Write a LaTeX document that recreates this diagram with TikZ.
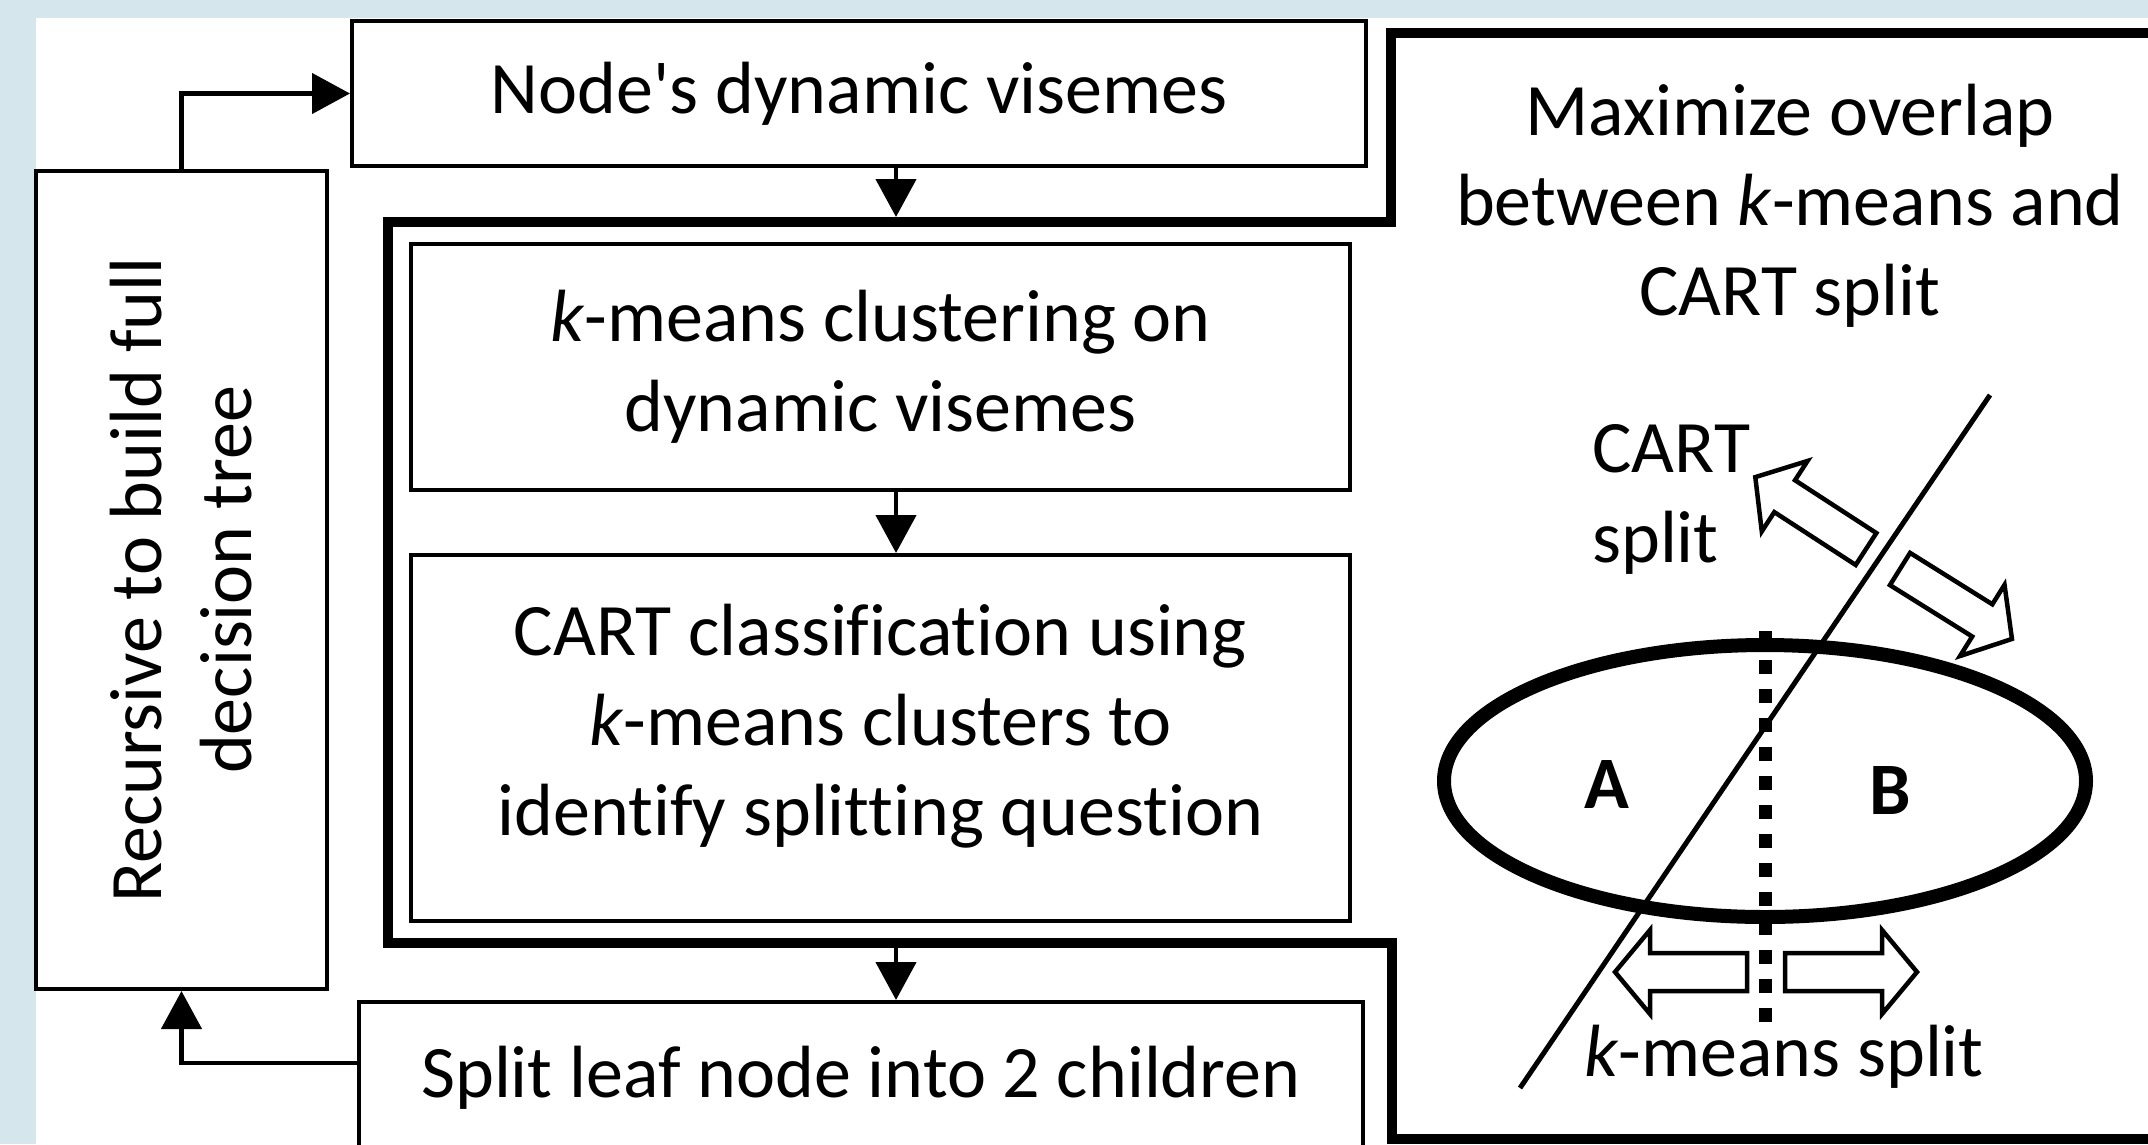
\documentclass[tikz,border=0pt]{standalone}
\usepackage{fontspec}
\setmainfont{Carlito}[Ligatures={TeXOff,CommonOff}]
\usetikzlibrary{arrows.meta}
\definecolor{bgblue}{RGB}{214,230,237}
\begin{document}
\begin{tikzpicture}[x=1pt,y=-1pt,
  every node/.style={font=\fontsize{74pt}{90pt}\selectfont},
  box/.style={draw=black, line width=4pt, fill=white, inner sep=0pt, align=center},
  conn/.style={line width=4.5pt, -{Triangle[length=38pt,width=40pt]}},
  bigframe/.style={line width=10pt, line join=miter},
  blockarr/.style={draw=black, line width=4.5pt, fill=white, line join=miter},
  ovalline/.style={line width=14pt},
  cutline/.style={line width=5pt},
  kline/.style={line width=13pt, dash pattern=on 14pt off 15pt},
  barrow/.pic={\draw[blockarr] (0,-19) -- (97,-19) -- (97,-42) -- (132,0) -- (97,42) -- (97,19) -- (0,19) -- cycle;}
]
\useasboundingbox (0,0) rectangle (2148,1144);
\clip (0,0) rectangle (2148,1144);
\fill[bgblue] (0,0) rectangle (2148,1144);
\fill[white] (36,18) rectangle (2160,1160);

% left flow
\node[box, minimum width=1014pt, minimum height=145pt] (dyn) at (859,93.5) {Node's dynamic visemes};
\node[box, minimum width=939pt, minimum height=246pt] (km) at (880.5,367) {\textit{k}-means clustering on\\dynamic visemes};
\node[box, minimum width=939pt, minimum height=366pt] (cart) at (880.5,738) {CART classification using\\\textit{k}-means clusters to\\identify splitting question\rule[-36pt]{0pt}{0pt}};
\node[box, minimum width=1004pt, minimum height=152pt] (split) at (861,1078) {Split leaf node into 2 children};
\node[box, minimum width=291pt, minimum height=818pt] (rec) at (181.5,580) {};
\node[rotate=90, align=center, inner sep=0pt] (rectxt) at (rec.center) {Recursive to build full\\decision tree};

% thick frame around inner group and right panel
\draw[bigframe] (388,222) -- (1391,222) -- (1391,33) -- (2170,33) -- (2170,1139) -- (1392,1139) -- (1392,943) -- (388,943) -- cycle;

% connectors
\coordinate (ftop) at (896,217);
\coordinate (fbot) at (896,948);
\draw[conn] (dyn.south -| ftop) -- (ftop);
\draw[conn] (km.south -| ftop) -- (cart.north -| ftop);
\draw[conn] (fbot) -- (split.north -| fbot);
\draw[conn] ([yshift=15pt]split.west) -| (rec.south);
\draw[conn] (rec.north) |- (dyn.west);

% right panel
\node[align=center, inner sep=0pt] (maxov) at (1790,206) {Maximize overlap\\between \textit{k}-means and\\CART split};

\coordinate (cutA) at (1520,1088);
\coordinate (cutB) at (1990,395);
\draw[cutline] (cutA) -- (cutB);
\draw[ovalline] (1765,781) ellipse [x radius=321, y radius=136];
\draw[kline] (1765,631) -- (1765,1033);

\node[font=\fontsize{74pt}{90pt}\selectfont\bfseries, inner sep=0pt] (A) at (1607,784) {A};
\node[font=\fontsize{74pt}{90pt}\selectfont\bfseries, inner sep=0pt] (B) at (1890,790) {B};

\node[align=left, inner sep=0pt, anchor=west] (cartlbl) at (1592,499) {CART\\split};
\node[inner sep=0pt, anchor=base west] (kmlbl) at (1584,1076) {\textit{k}-means split};

\pic[rotate=147] at (1866,549) {barrow};
\pic[rotate=-32] at (1900,569) {barrow};
\pic[rotate=180] at (1747,972) {barrow};
\pic at (1785,972) {barrow};
\end{tikzpicture}
\end{document}
